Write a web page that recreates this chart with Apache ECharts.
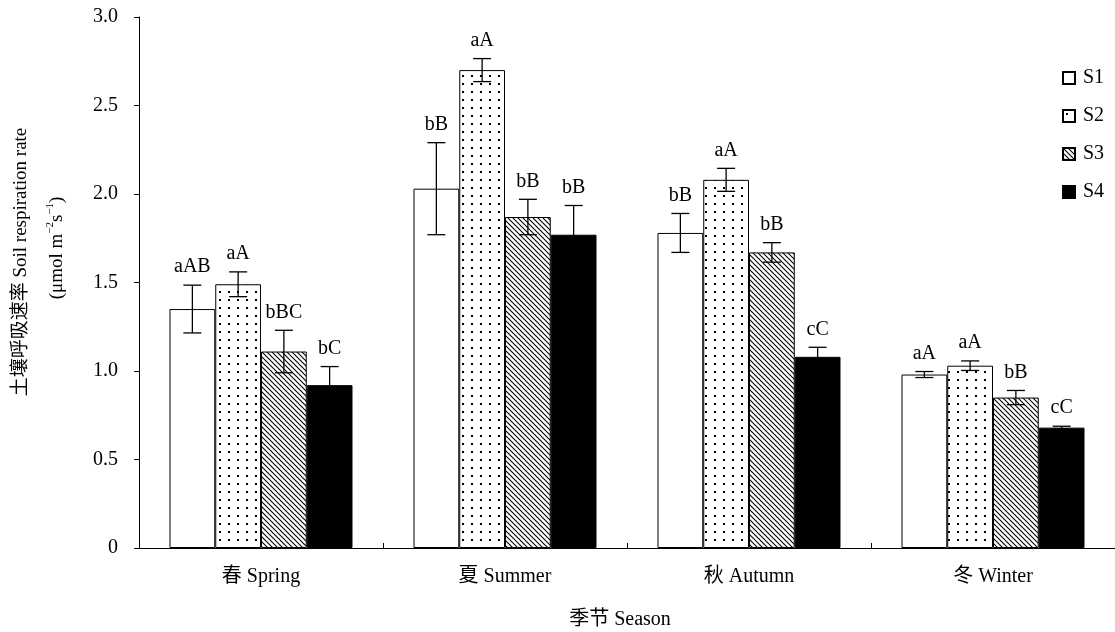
<!DOCTYPE html>
<html>
<head>
<meta charset="utf-8">
<title>土壤呼吸速率 Soil respiration rate</title>
<script src="https://cdn.jsdelivr.net/npm/echarts@6/dist/echarts.min.js"></script>
<style>
  html, body { margin: 0; padding: 0; background: #fff; }
  #chart { width: 1115px; height: 632px; }
</style>
</head>
<body>
<div id="chart"></div>
<script>
// Seasons on the category axis
const seasons = ['春 Spring', '夏 Summer', '秋 Autumn', '冬 Winter'];
const sites = ['S1', 'S2', 'S3', 'S4'];

// Mean soil respiration rate (μmol m-2 s-1) per site, one entry per season
const s1Mean = [1.35, 2.03, 1.78, 0.98];
const s2Mean = [1.49, 2.70, 2.08, 1.03];
const s3Mean = [1.11, 1.87, 1.67, 0.85];
const s4Mean = [0.92, 1.77, 1.08, 0.68];

// Standard errors
const s1Err = [0.135, 0.26, 0.11, 0.017];
const s2Err = [0.07, 0.065, 0.065, 0.027];
const s3Err = [0.12, 0.10, 0.055, 0.04];
const s4Err = [0.105, 0.165, 0.054, 0.008];

// Significance letters
const s1Sig = ['aAB', 'bB', 'bB', 'aA'];
const s2Sig = ['aA', 'aA', 'aA', 'aA'];
const s3Sig = ['bBC', 'bB', 'bB', 'bB'];
const s4Sig = ['bC', 'bB', 'cC', 'cC'];

// Y axis ticks
const yMin = 0, yMax = 3.0, yStep = 0.5;

const means = [s1Mean, s2Mean, s3Mean, s4Mean];
const errs = [s1Err, s2Err, s3Err, s4Err];
const sigs = [s1Sig, s2Sig, s3Sig, s4Sig];

const FONT = "'Liberation Serif', 'Times New Roman', 'Noto Sans CJK SC', serif";
const FS = 20;
const CAT_GAP = 0.25;

// Fill tiles: fine dots and back-slash hatching
function dotTile() {
  const c = document.createElement('canvas');
  c.width = 9; c.height = 8;
  const g = c.getContext('2d');
  g.fillStyle = '#fff';
  g.fillRect(0, 0, 9, 8);
  g.fillStyle = '#000';
  g.fillRect(3, 3, 2, 2);
  return c;
}
function hatchTile() {
  const n = 5;
  const c = document.createElement('canvas');
  c.width = n; c.height = n;
  const g = c.getContext('2d');
  g.fillStyle = '#fff';
  g.fillRect(0, 0, n, n);
  g.strokeStyle = '#000';
  g.lineWidth = 1.1;
  for (let k = -1; k <= 1; k++) {
    g.beginPath();
    g.moveTo(-1 + k * n, -1);
    g.lineTo(n + 1 + k * n, n + 1);
    g.stroke();
  }
  return c;
}

const fills = [
  '#ffffff',
  { image: dotTile(), repeat: 'repeat' },
  { image: hatchTile(), repeat: 'repeat' },
  '#000000'
];

const barSeries = sites.map((name, i) => ({
  name: name,
  type: 'bar',
  data: means[i],
  barGap: '0%',
  barCategoryGap: (CAT_GAP * 100) + '%',
  itemStyle: { color: fills[i], borderColor: '#000', borderWidth: 1 },
  emphasis: { disabled: true },
  z: 2
}));

// One row per bar: [season index, site index, mean, error]
const errData = [];
for (let s = 0; s < sites.length; s++) {
  for (let c = 0; c < seasons.length; c++) {
    errData.push([c, s, means[s][c], errs[s][c]]);
  }
}

const errorSeries = {
  name: 'error',
  type: 'custom',
  data: errData,
  z: 5,
  silent: true,
  renderItem: function (params, api) {
    const c = api.value(0), s = api.value(1), m = api.value(2), e = api.value(3);
    const band = api.size([1, 0])[0];
    const barW = band * (1 - CAT_GAP) / sites.length;
    const cx = api.coord([c, m])[0] + (s - (sites.length - 1) / 2) * barW;
    const yTop = api.coord([c, m + e])[1];
    const yBot = api.coord([c, m - e])[1];
    const cap = 9;
    const line = { stroke: '#000', lineWidth: 1.3 };
    return {
      type: 'group',
      children: [
        { type: 'line', shape: { x1: cx, y1: yTop, x2: cx, y2: yBot }, style: line },
        { type: 'line', shape: { x1: cx - cap, y1: yTop, x2: cx + cap, y2: yTop }, style: line },
        { type: 'line', shape: { x1: cx - cap, y1: yBot, x2: cx + cap, y2: yBot }, style: line },
        {
          type: 'text',
          x: cx, y: yTop - 8,
          style: {
            text: sigs[s][c],
            fill: '#000',
            font: FS + 'px ' + FONT,
            align: 'center',
            verticalAlign: 'bottom'
          }
        }
      ]
    };
  }
};

const chart = echarts.init(document.getElementById('chart'), null, { renderer: 'canvas' });

chart.setOption({
  animation: false,
  backgroundColor: '#fff',
  textStyle: { fontFamily: FONT },
  grid: { left: 139, top: 17, width: 980, height: 531, containLabel: false },
  legend: {
    data: sites.map(n => ({ name: n, icon: 'rect' })),
    orient: 'vertical',
    left: 1057,
    top: 63,
    itemWidth: 12,
    itemHeight: 12,
    itemGap: 18,
    selectedMode: false,
    textStyle: { fontFamily: FONT, fontSize: FS, color: '#000', lineHeight: 20, padding: [0, 0, 0, 3] }
  },
  xAxis: {
    type: 'category',
    data: seasons,
    boundaryGap: true,
    axisLine: { lineStyle: { color: '#000', width: 1 } },
    axisTick: { show: true, inside: true, length: 5, alignWithLabel: false, lineStyle: { color: '#000' } },
    axisLabel: { color: '#000', fontSize: FS, fontFamily: FONT, margin: 19 },
    splitLine: { show: false }
  },
  yAxis: {
    type: 'value',
    min: yMin,
    max: yMax,
    interval: yStep,
    axisLine: { show: true, lineStyle: { color: '#000', width: 1 } },
    axisTick: { show: true, inside: false, length: 5, lineStyle: { color: '#000' } },
    axisLabel: {
      color: '#000', fontSize: FS, fontFamily: FONT, margin: 21,
      formatter: v => (v === 0 ? '0' : v.toFixed(1))
    },
    splitLine: { show: false }
  },
  graphic: [
    {
      type: 'text',
      x: 21, y: 262,
      rotation: Math.PI / 2,
      style: {
        text: '土壤呼吸速率 Soil respiration rate',
        font: '19px ' + FONT,
        fill: '#000',
        align: 'center',
        verticalAlign: 'middle'
      }
    },
    {
      type: 'text',
      x: 56, y: 248,
      rotation: Math.PI / 2,
      style: {
        text: '{a|(μmol m}{s|−2}{a|s}{s|−1}{a|)}',
        fill: '#000',
        align: 'center',
        verticalAlign: 'middle',
        rich: {
          a: { fontSize: 19, fontFamily: FONT, lineHeight: 22, verticalAlign: 'bottom', fill: '#000' },
          s: { fontSize: 11, fontFamily: FONT, lineHeight: 22, verticalAlign: 'top', fill: '#000' }
        }
      }
    },
    {
      type: 'text',
      x: 620, y: 620,
      style: {
        text: '季节 Season',
        font: FS + 'px ' + FONT,
        fill: '#000',
        align: 'center',
        verticalAlign: 'middle'
      }
    }
  ],
  series: barSeries.concat([errorSeries])
});
</script>
</body>
</html>
